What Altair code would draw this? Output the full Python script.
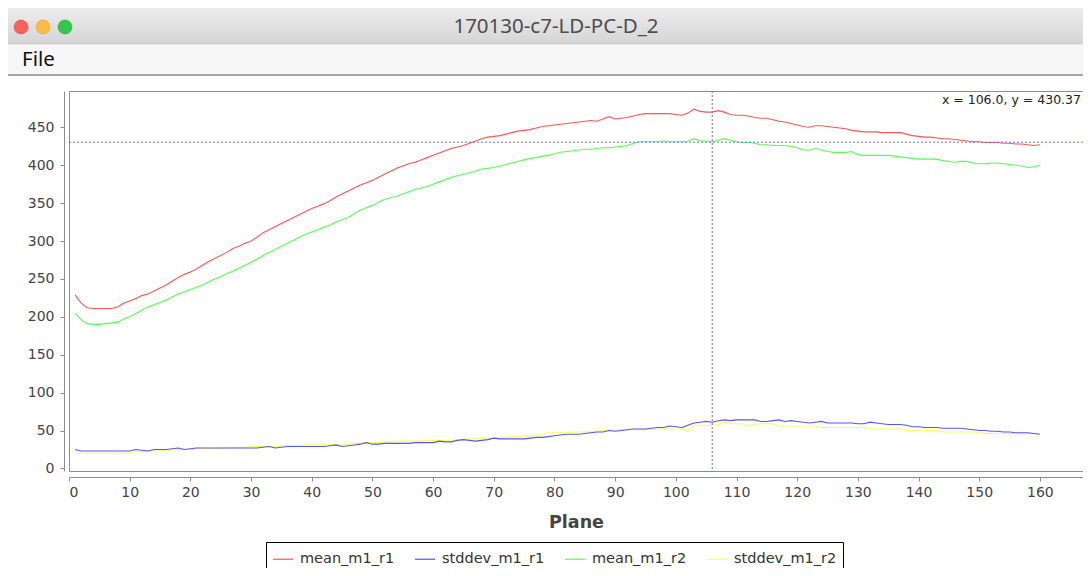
import altair as alt
import pandas as pd

# ---------------- data ----------------
planes = list(range(1, 161))

mean_m1_r1 = [
    229, 218, 212, 211, 211, 211, 211, 213, 218, 221,
    224, 228, 230, 234, 238, 242, 247, 252, 256, 259,
    263, 268, 273, 277, 281, 285, 290, 293, 297, 300,
    305, 311, 315, 319, 323, 327, 331, 335, 339, 343,
    346, 349, 353, 358, 362, 366, 370, 374, 377, 380,
    384, 388, 392, 396, 399, 402, 404, 407, 410, 413,
    416, 419, 422, 424, 426, 429, 432, 435, 437, 438,
    439, 441, 443, 445, 446, 447, 449, 451, 452, 453,
    454, 455, 456, 457, 458, 459, 458, 461, 464, 461,
    462, 463, 465, 467, 468, 468, 468, 468, 468, 467,
    466, 469, 474, 471, 470, 470, 472, 470, 467, 466,
    466, 465, 463, 462, 462, 460, 458, 457, 455, 453,
    451, 450, 452, 452, 451, 450, 449, 448, 446, 445,
    444, 444, 444, 443, 443, 443, 443, 441, 439, 438,
    437, 437, 436, 435, 435, 434, 433, 432, 431, 431,
    430, 430, 430, 429, 429, 428, 428, 427, 426, 427,
]

stddev_m1_r1 = [
    25, 23, 23, 23, 23, 23, 23, 23, 23, 23,
    25, 24, 23, 25, 25, 25, 26, 27, 25, 26,
    27, 27, 27, 27, 27, 27, 27, 27, 27, 27,
    27, 28, 29, 27, 28, 29, 29, 29, 29, 29,
    29, 29, 30, 31, 29, 30, 31, 32, 34, 32,
    32, 33, 33, 33, 33, 33, 34, 34, 34, 34,
    36, 35, 35, 37, 38, 37, 36, 37, 38, 40,
    39, 39, 39, 39, 39, 40, 41, 41, 42, 43,
    44, 45, 45, 45, 46, 47, 48, 48, 50, 49,
    50, 51, 52, 52, 52, 53, 54, 54, 56, 55,
    54, 57, 60, 61, 62, 61, 63, 64, 63, 64,
    64, 64, 64, 62, 62, 63, 64, 62, 63, 62,
    61, 60, 61, 62, 60, 60, 60, 60, 60, 59,
    59, 61, 60, 59, 58, 58, 58, 57, 55, 55,
    54, 54, 54, 53, 53, 53, 53, 52, 51, 50,
    50, 49, 49, 48, 48, 47, 47, 47, 46, 45,
]

mean_m1_r2 = [
    205, 196, 191, 190, 190, 191, 192, 193, 197, 200,
    204, 209, 213, 216, 219, 222, 226, 230, 233, 236,
    239, 242, 246, 250, 253, 257, 260, 264, 268, 272,
    276, 281, 285, 289, 293, 297, 301, 305, 309, 312,
    315, 318, 321, 325, 328, 331, 336, 341, 344, 347,
    351, 355, 357, 359, 362, 365, 368, 370, 372, 375,
    378, 381, 384, 386, 388, 390, 392, 395, 396, 397,
    399, 401, 403, 405, 407, 409, 410, 412, 413, 415,
    417, 418, 419, 420, 421, 421, 422, 423, 423, 424,
    425, 426, 429, 431, 431, 431, 431, 432, 431, 431,
    431, 432, 435, 432, 432, 431, 433, 435, 433, 431,
    430, 430, 429, 427, 427, 426, 426, 426, 425, 423,
    420, 420, 422, 420, 418, 417, 417, 417, 418, 414,
    413, 413, 413, 413, 413, 412, 411, 410, 409, 408,
    408, 408, 408, 406, 405, 404, 405, 405, 403, 402,
    402, 403, 403, 402, 401, 400, 399, 397, 398, 400,
]

stddev_m1_r2 = [
    20, 20, 20, 20, 20, 20, 20, 20, 20, 21,
    22, 22, 23, 23, 23, 24, 24, 25, 25, 25,
    26, 26, 26, 26, 27, 27, 27, 28, 28, 29,
    29, 29, 29, 29, 30, 30, 30, 30, 31, 31,
    31, 32, 31, 31, 32, 32, 33, 33, 34, 34,
    34, 35, 35, 36, 36, 36, 36, 36, 37, 37,
    37, 37, 37, 38, 38, 39, 39, 40, 40, 40,
    41, 41, 42, 42, 43, 43, 44, 45, 47, 47,
    47, 47, 48, 48, 48, 49, 49, 50, 51, 51,
    51, 51, 51, 51, 51, 51, 52, 52, 52, 52,
    52, 49, 57, 57, 57, 57, 58, 61, 59, 59,
    59, 56, 58, 59, 59, 59, 56, 56, 56, 56,
    56, 56, 56, 54, 54, 54, 54, 54, 54, 54,
    54, 52, 52, 52, 52, 52, 52, 50, 50, 50,
    50, 50, 50, 48, 48, 48, 48, 48, 48, 47,
    46, 46, 46, 46, 46, 46, 46, 46, 46, 46,
]

series_names = ["mean_m1_r1", "stddev_m1_r1", "mean_m1_r2", "stddev_m1_r2"]
series_values = [mean_m1_r1, stddev_m1_r1, mean_m1_r2, stddev_m1_r2]
series_colors = ["#ff5555", "#5555ff", "#55ff55", "#ffff55"]

x_ticks = list(range(0, 161, 10))
y_ticks = list(range(0, 451, 50))
x_domain = [0, 167.1]
y_domain = [-3.4, 497.9]

cross_x = 106.0
cross_y = 430.37
window_title = "170130-c7-LD-PC-D_2"
menu_label = "File"
x_title = "Plane"

# ---------------- build ----------------
rows = []
for name, vals in zip(series_names, series_values):
    for p, v in zip(planes, vals):
        rows.append({"plane": p, "value": v, "series": name})
df = pd.DataFrame(rows)

W, H = 1014, 380
FONT = "DejaVu Sans"

x_enc = alt.X("plane:Q",
              scale=alt.Scale(domain=x_domain, nice=False, zero=False),
              axis=alt.Axis(values=x_ticks, title=x_title, offset=6, tickSize=4,
                            labelPadding=4, titlePadding=14, titleFontSize=17.5,
                            titleFontWeight="bold", titleColor="#444444",
                            titleFont=FONT))
y_enc = alt.Y("value:Q",
              scale=alt.Scale(domain=y_domain, nice=False, zero=False),
              axis=alt.Axis(values=y_ticks, title=None, offset=5, tickSize=4,
                            labelPadding=6))
color_enc = alt.Color("series:N",
                      scale=alt.Scale(domain=series_names, range=series_colors),
                      legend=alt.Legend(orient="none", legendX=197, legendY=451,
                                        direction="horizontal", title=None,
                                        symbolType="stroke", symbolSize=400,
                                        symbolStrokeWidth=1.2, labelFontSize=14.5,
                                        labelFont=FONT, labelColor="#333333",
                                        strokeColor="#000000", fillColor="#ffffff",
                                        padding=6, columnPadding=17, labelOffset=6))

one = pd.DataFrame({"k": [0]})

# window chrome
titlebar = alt.Chart(one).mark_rect(
    fill=alt.Gradient(gradient="linear",
                      stops=[alt.GradientStop(color="#ececec", offset=0),
                             alt.GradientStop(color="#d5d5d5", offset=1)],
                      x1=0, x2=0, y1=0, y2=1)
).encode(x=alt.value(-61), x2=alt.value(W), y=alt.value(-83), y2=alt.value(-47))
titleline = alt.Chart(one).mark_rule(color="#c4c4c4", strokeWidth=1).encode(
    x=alt.value(-61), x2=alt.value(W), y=alt.value(-47))
menubar = alt.Chart(one).mark_rect(fill="#f6f6f6").encode(
    x=alt.value(-61), x2=alt.value(W), y=alt.value(-46.5), y2=alt.value(-16.5))
menuline = alt.Chart(one).mark_rule(color="#a6a6a6", strokeWidth=2).encode(
    x=alt.value(-61), x2=alt.value(W), y=alt.value(-16))
lights = [
    alt.Chart(one).mark_circle(size=195, opacity=1, color=c, stroke=s, strokeWidth=0.6).encode(
        x=alt.value(px), y=alt.value(-64))
    for px, c, s in [(-48, "#fc605c", "#de4a44"), (-26, "#fdbc40", "#dea033"),
                     (-4, "#34c84a", "#27a83a")]
]
title_text = alt.Chart(one).mark_text(text=window_title, font="Noto Sans", fontSize=20.5,
                                      color="#4d4d4d", align="center", baseline="middle").encode(
    x=alt.value(487), y=alt.value(-64))
menu_text = alt.Chart(one).mark_text(text=menu_label, font="Noto Sans", fontSize=20.5,
                                     color="#111111", align="left", baseline="middle").encode(
    x=alt.value(-47), y=alt.value(-31))

# lines, drawn last series first so the first series ends on top
line_layers = []
for name in reversed(series_names):
    line_layers.append(
        alt.Chart(df[df["series"] == name]).mark_line(strokeWidth=1.1).encode(
            x=x_enc, y=y_enc, color=color_enc)
    )

cross_df = pd.DataFrame({"cx": [cross_x], "cy": [cross_y]})
vrule = alt.Chart(cross_df).mark_rule(color="#6a6aff", strokeWidth=1, strokeDash=[2, 2]).encode(
    x=alt.X("cx:Q", scale=alt.Scale(domain=x_domain, nice=False, zero=False)))
hrule = alt.Chart(cross_df).mark_rule(color="#6a6aff", strokeWidth=1, strokeDash=[2, 2]).encode(
    y=alt.Y("cy:Q", scale=alt.Scale(domain=y_domain, nice=False, zero=False)))
cross_label = alt.Chart(one).mark_text(
    text=f"x = {cross_x:.1f}, y = {cross_y:.2f}", font=FONT, fontSize=12.5,
    color="#222222", align="right", baseline="middle").encode(
    x=alt.value(W - 2), y=alt.value(9))

chart = alt.layer(
    titlebar, titleline, menubar, menuline, *lights, title_text, menu_text,
    *line_layers, vrule, hrule, cross_label
).properties(
    width=W, height=H,
    padding={"left": 61, "top": 83, "right": 0, "bottom": 97},
    autosize=alt.AutoSizeParams(type="none"),
    background="#ffffff",
).configure_view(
    stroke="#8c8c8c", strokeWidth=1, fill="#ffffff"
).configure_axis(
    labelFont=FONT, labelFontSize=14, labelColor="#444444",
    domainColor="#8c8c8c", tickColor="#8c8c8c", grid=False
)

chart.save("out.html", embed_options={"renderer": "svg", "actions": False})
